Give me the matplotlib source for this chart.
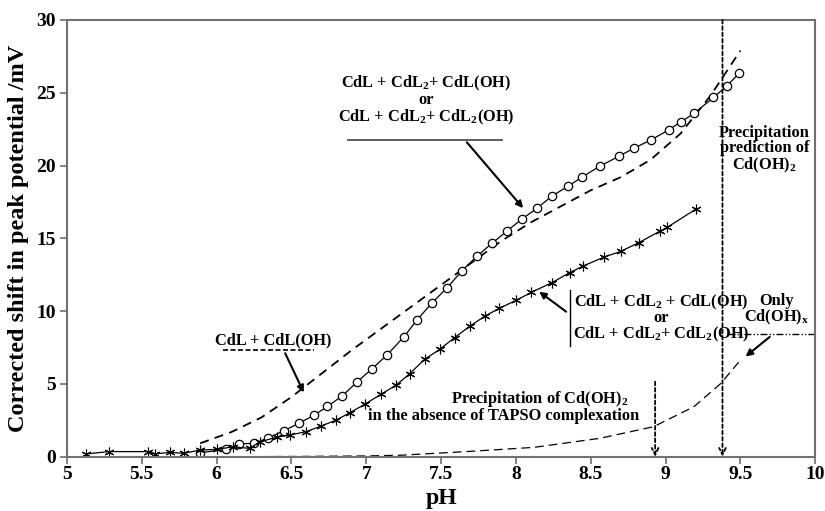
import matplotlib.pyplot as plt

plt.rcParams['font.family'] = ['Liberation Serif', 'DejaVu Serif']
plt.rcParams['font.weight'] = 'bold'
plt.rcParams['mathtext.fontset'] = 'custom'
plt.rcParams['mathtext.rm'] = 'Liberation Serif:bold'
plt.rcParams['mathtext.it'] = 'Liberation Serif:italic:bold'
plt.rcParams['mathtext.bf'] = 'Liberation Serif:bold'

# measured shifts, open circles
ph_circ = [5.89, 6.06, 6.15, 6.25, 6.34, 6.45, 6.55, 6.65, 6.74, 6.84, 6.94, 7.04,
           7.14, 7.25, 7.34, 7.44, 7.54, 7.64, 7.74, 7.84, 7.94, 8.04, 8.14, 8.24,
           8.35, 8.44, 8.56, 8.69, 8.79, 8.90, 9.02, 9.10, 9.19, 9.32, 9.41, 9.49]
shift_circ = [0.27, 0.50, 0.88, 0.92, 1.27, 1.78, 2.30, 2.84, 3.45, 4.18, 5.15, 6.05,
              7.00, 8.22, 9.40, 10.58, 11.60, 12.78, 13.78, 14.66, 15.50, 16.33, 17.06, 17.90,
              18.59, 19.20, 19.95, 20.65, 21.20, 21.75, 22.44, 22.99, 23.58, 24.68, 25.48, 26.33]

# measured shifts, stars
ph_star = [5.13, 5.28, 5.54, 5.59, 5.69, 5.78, 5.89, 6.00, 6.11, 6.22, 6.29, 6.40, 6.49,
           6.60, 6.70, 6.80, 6.89, 6.99, 7.10, 7.20, 7.29, 7.39, 7.49, 7.59, 7.69, 7.79,
           7.89, 8.00, 8.10, 8.24, 8.36, 8.45, 8.59, 8.70, 8.82, 8.96, 9.01, 9.20]
shift_star = [0.19, 0.35, 0.35, 0.19, 0.30, 0.23, 0.46, 0.50, 0.68, 0.57, 1.03, 1.33, 1.49,
              1.72, 2.11, 2.52, 3.02, 3.60, 4.30, 4.92, 5.70, 6.69, 7.37, 8.18, 8.95, 9.64,
              10.20, 10.73, 11.28, 11.95, 12.65, 13.10, 13.72, 14.10, 14.70, 15.48, 15.75, 16.99]

# CdL + CdL(OH) model
ph_model = [5.89, 6.1, 6.3, 6.5, 6.7, 6.9, 7.1, 7.3, 7.5, 7.7, 7.9, 8.1, 8.3, 8.5,
            8.7, 8.9, 9.1, 9.3, 9.5]
shift_model = [0.92, 1.7, 2.7, 4.1, 5.7, 7.3, 8.8, 10.3, 11.8, 13.3, 14.8, 16.1, 17.2,
               18.3, 19.2, 20.4, 22.2, 24.8, 27.9]

# Cd(OH)2 precipitation without TAPSO
ph_prec = [6.2, 6.6, 7.0, 7.23, 7.67, 8.12, 8.56, 8.92, 9.19, 9.37, 9.50]
shift_prec = [0.0, 0.02, 0.05, 0.10, 0.35, 0.64, 1.26, 2.06, 3.44, 5.04, 6.64]

fig = plt.figure(figsize=(8.25, 5.11), dpi=100)
ax = fig.add_axes([0.0812, 0.1063, 0.907, 0.8546])

ax.plot(ph_model, shift_model, color='black', lw=1.3, ls=(0, (5, 3.5)))
ax.plot(ph_circ, shift_circ, color='black', lw=0.9, marker='o', ms=6,
        mfc='white', mec='black', mew=0.9)
ax.plot(ph_star, shift_star, color='black', lw=0.9, marker=(6, 2, 0), ms=7,
        mec='black', mew=0.8)
ax.plot(ph_prec, shift_prec, color='black', lw=0.9, ls=(0, (7, 4)))

ax.set_xlim(5, 10)
ax.set_ylim(0, 30)
ax.set_xticks([5, 5.5, 6, 6.5, 7, 7.5, 8, 8.5, 9, 9.5, 10])
ax.set_xticklabels(['5', '5.5', '6', '6.5', '7', '7.5', '8', '8.5', '9', '9.5', '10'],
                   fontsize=14, fontweight='bold')
ax.set_yticks([0, 5, 10, 15, 20, 25, 30])
ax.set_yticklabels(['0', '5', '10', '15', '20', '25', '30'], fontsize=14, fontweight='bold')
ax.tick_params(width=1.2, length=5, color='#707070')
ax.tick_params(axis='x', pad=2)
ax.tick_params(axis='y', pad=3)
for s in ax.spines.values():
    s.set_color('#707070')
    s.set_linewidth(1.5)

ax.set_xlabel('pH', fontsize=17, fontweight='bold', labelpad=3)
ax.set_ylabel('Corrected shift in peak potential /mV', fontsize=17.5, fontweight='bold', labelpad=5)

fs = 11.8
arrow = dict(arrowstyle='-|>', color='black', lw=1.5, mutation_scale=10)

# upper annotation
ax.text(7.40, 24.5, 'CdL + CdL$_2$+ CdL(OH)\nor\nCdL + CdL$_2$+ CdL$_2$(OH)',
        ha='center', va='center', fontsize=fs, fontweight='bold', linespacing=0.95)
ax.plot([6.88, 7.91], [21.74, 21.74], color='#505050', lw=1.3)
ax.annotate('', xy=(8.06, 16.93), xytext=(7.66, 21.74), arrowprops=arrow)

# CdL + CdL(OH)
ax.text(6.375, 8.0, 'CdL + CdL(OH)', ha='center', va='center', fontsize=fs, fontweight='bold')
ax.plot([6.04, 6.65], [7.33, 7.33], color='black', lw=1.2, ls=(0, (3, 1.5)))
ax.annotate('', xy=(6.59, 4.24), xytext=(6.45, 7.28), arrowprops=arrow)

# right annotation
ax.text(8.38, 9.5, 'CdL + CdL$_2$ + CdL(OH)\nor\nCdL + CdL$_2$+ CdL$_2$(OH)',
        ha='left', va='center', fontsize=fs, fontweight='bold', linespacing=0.9,
        multialignment='center')
ax.plot([8.36, 8.36], [7.6, 11.45], color='black', lw=1.0)
ax.annotate('', xy=(8.14, 11.45), xytext=(8.35, 9.85), arrowprops=arrow)

# only Cd(OH)x
ax.text(9.74, 10.1, 'Only\nCd(OH)$_{\\rm x}$', ha='center', va='center', fontsize=fs,
        fontweight='bold', linespacing=0.9)
ax.plot([9.42, 9.99], [8.45, 8.45], color='black', lw=1.0, ls=(0, (5, 1.5, 1, 1.5, 1, 1.5)))
ax.annotate('', xy=(9.52, 6.76), xytext=(9.71, 8.35), arrowprops=arrow)

# precipitation prediction
ax.annotate('', xy=(9.38, 0), xytext=(9.38, 30),
            arrowprops=dict(arrowstyle='->', color='black', lw=1.3, ls=(0, (2, 1.5)),
                            mutation_scale=12, shrinkA=0, shrinkB=0))
ax.text(9.66, 21.1, 'Precipitation\nprediction of\nCd(OH)$_2$', ha='center', va='center',
        fontsize=fs, fontweight='bold', linespacing=0.95)

# precipitation without TAPSO
ax.annotate('', xy=(8.93, 0), xytext=(8.93, 5.15),
            arrowprops=dict(arrowstyle='->', color='black', lw=1.3, ls=(0, (2, 1.5)),
                            mutation_scale=12, shrinkA=0, shrinkB=0))
ax.text(8.16, 3.94, 'Precipitation of Cd(OH)$_2$', ha='center', va='center',
        fontsize=fs, fontweight='bold')
ax.text(7.92, 2.82, 'in the absence of TAPSO complexation', ha='center', va='center',
        fontsize=fs, fontweight='bold')

plt.savefig('out.png', dpi=100)
